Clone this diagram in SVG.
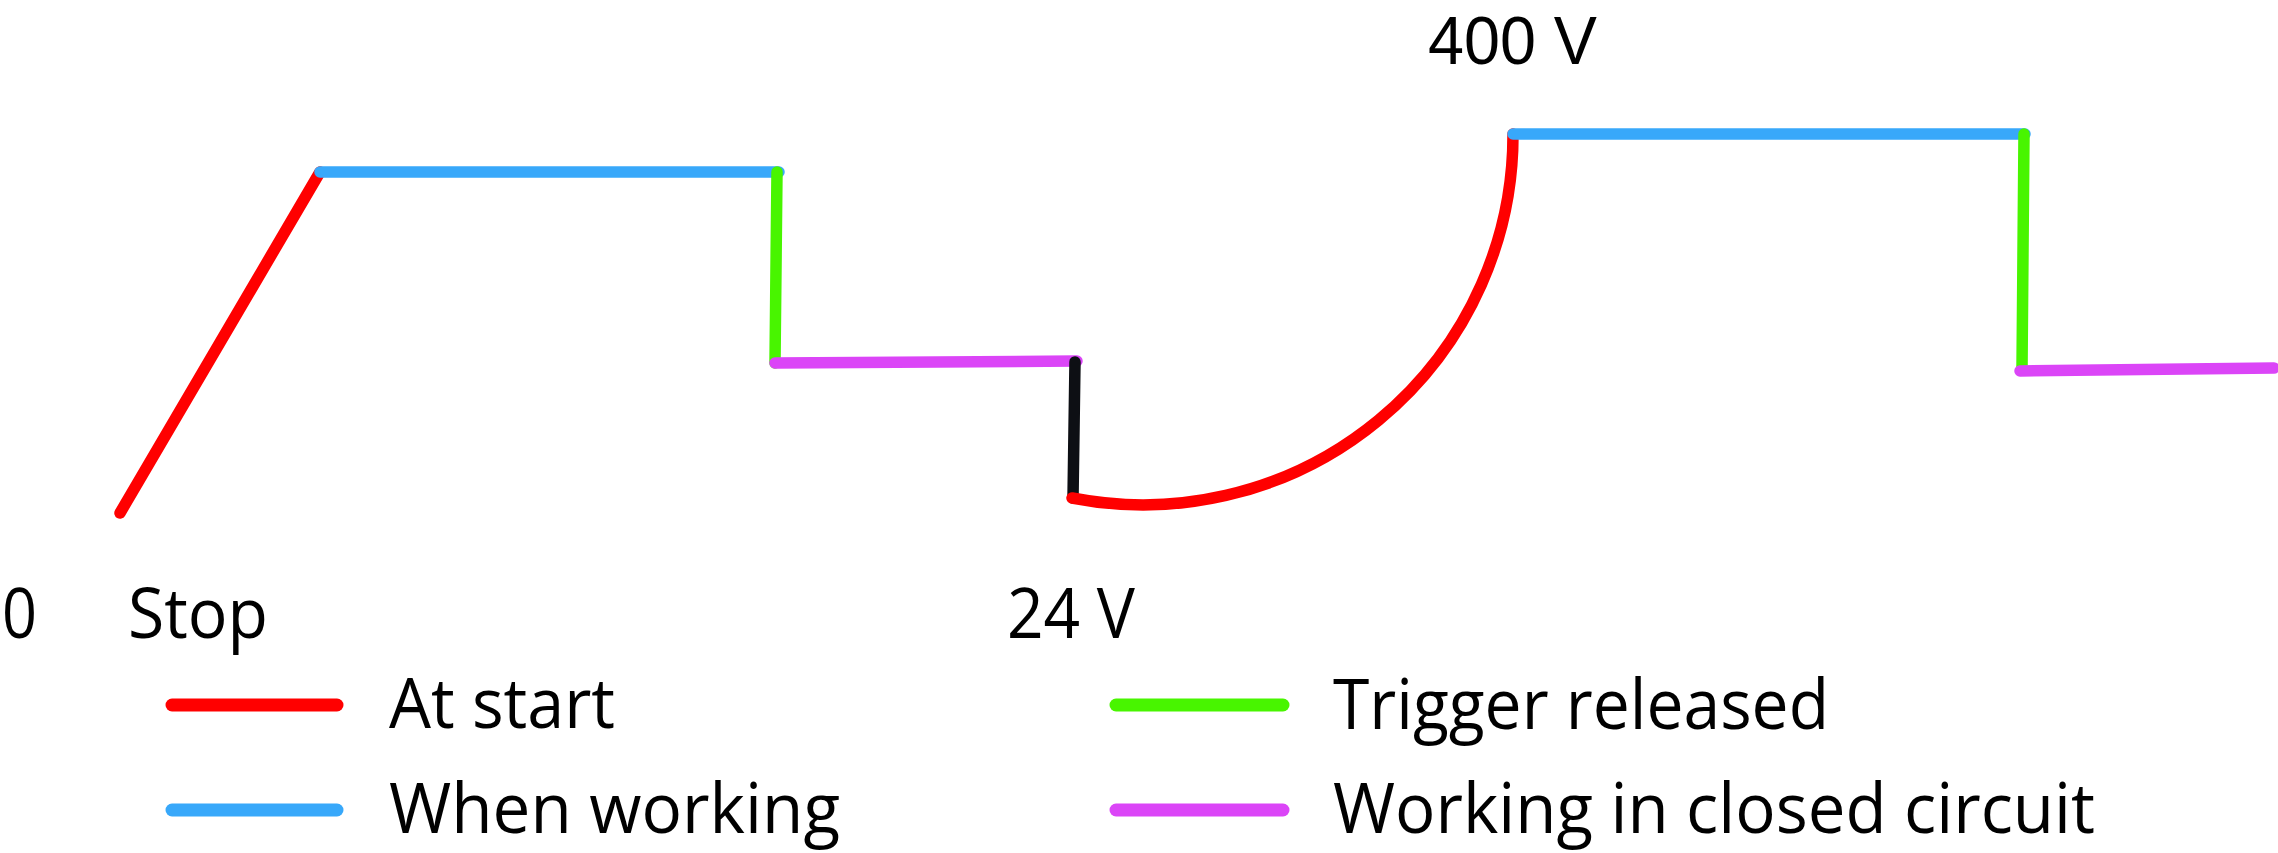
<svg xmlns="http://www.w3.org/2000/svg" width="2278" height="853" viewBox="0 0 2278 853">
<style>
.ln{fill:none;stroke-width:11.5;stroke-linecap:round;stroke-linejoin:round}
.r{stroke:#ff0000}.b{stroke:#38a8fa}.g{stroke:#48f500}.p{stroke:#db45f7}.k{stroke:#0d0f14}
text{font-family:"Open Sans","Noto Sans","Liberation Sans",sans-serif;font-size:70px;fill:#000}
.top{font-family:"Liberation Sans",Arial,sans-serif;font-size:68px}
</style>
<rect width="2278" height="853" fill="#fff"/>
<g id="connectors">
<line class="ln r" x1="120" y1="513" x2="320" y2="172"/>
<line class="ln b" x1="320" y1="172" x2="779" y2="172"/>
<line class="ln g" x1="777" y1="172" x2="775" y2="363"/>
<line class="ln p" x1="775" y1="363" x2="1077" y2="361"/>
<line class="ln k" x1="1075" y1="362" x2="1073" y2="498"/>
<path class="ln r" d="M1072,498 A370,370 0 0 0 1513,134"/>
<line class="ln b" x1="1513" y1="134" x2="2025" y2="134"/>
<line class="ln g" x1="2024" y1="134" x2="2022" y2="369"/>
<line class="ln p" x1="2020" y1="371" x2="2274" y2="368"/>
</g>
<g id="labels">
<text class="top" x="1428" y="64" textLength="169" lengthAdjust="spacingAndGlyphs">400 V</text>
<text x="2" y="638" textLength="35" lengthAdjust="spacingAndGlyphs">0</text>
<text x="128" y="638" textLength="140" lengthAdjust="spacingAndGlyphs">Stop</text>
<text x="1007" y="638" textLength="128" lengthAdjust="spacingAndGlyphs">24 V</text>
</g>
<g id="legend-at-start">
<line class="ln r" x1="172" y1="705" x2="337" y2="705" style="stroke-width:13"/>
<text x="389" y="728" textLength="226" lengthAdjust="spacingAndGlyphs">At start</text>
</g>
<g id="legend-when-working">
<line class="ln b" x1="172" y1="810" x2="337" y2="810" style="stroke-width:13"/>
<text x="389" y="833" textLength="451" lengthAdjust="spacingAndGlyphs">When working</text>
</g>
<g id="legend-trigger-released">
<line class="ln g" x1="1116" y1="705" x2="1283" y2="705" style="stroke-width:13"/>
<text x="1333" y="729" textLength="496" lengthAdjust="spacingAndGlyphs">Trigger released</text>
</g>
<g id="legend-closed-circuit">
<line class="ln p" x1="1116" y1="810" x2="1283" y2="810" style="stroke-width:13"/>
<text x="1333" y="833" textLength="762" lengthAdjust="spacingAndGlyphs">Working in closed circuit</text>
</g>
</svg>
